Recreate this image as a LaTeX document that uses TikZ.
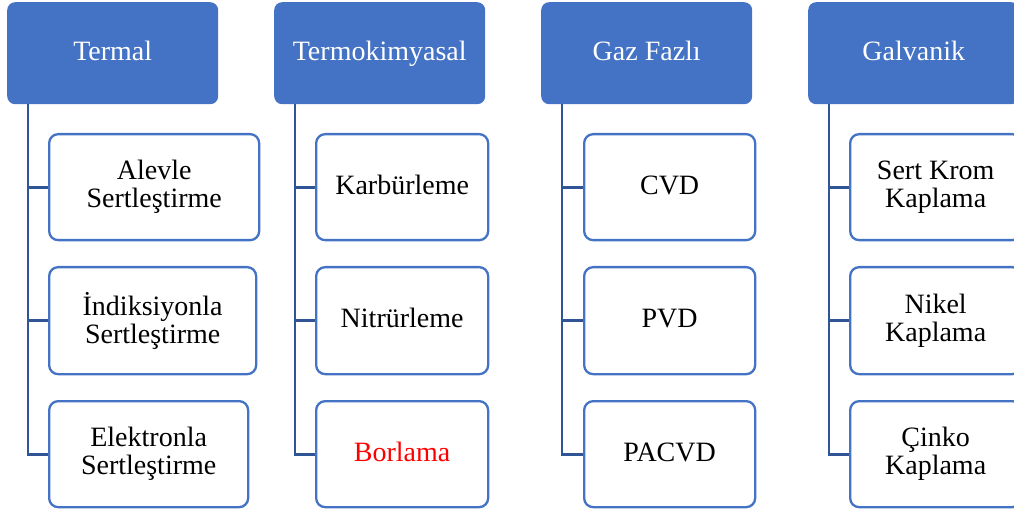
\documentclass[tikz,border=0pt]{standalone}
\usepackage{fontspec}
\setmainfont{Liberation Serif}
\definecolor{hdr}{HTML}{4472C4}
\definecolor{conn}{HTML}{2F5597}
\definecolor{bord}{HTML}{4472C4}
\tikzset{
  hdrbox/.style={fill=hdr, draw=none, rounded corners=8pt, text=white, font=\fontsize{28}{28}\selectfont, align=center, anchor=north west, text height=19pt, text depth=5pt, minimum width=211pt, minimum height=102pt},
  childbox/.style={draw=bord, fill=white, line width=2.3pt, rounded corners=9pt, font=\fontsize{28}{28}\selectfont, align=center, anchor=north west},
  oneline/.style={childbox, text height=19pt, text depth=5pt},
  connline/.style={draw=conn, line width=2.8pt}
}
\begin{document}
\begin{tikzpicture}[x=1pt,y=-1pt]
\useasboundingbox (0,0) rectangle (1014,510);
\clip (0,0) rectangle (1014,510);
% headers
\node[hdrbox] (h1) at (7,2) {Termal};
\node[hdrbox] (h2) at (274,2) {Termokimyasal};
\node[hdrbox] (h3) at (541,2) {Gaz Fazlı};
\node[hdrbox] (h4) at (808,2) {Galvanik};
% column 1
\node[childbox, minimum width=210pt, minimum height=106pt] (c11) at (48,133) {Alevle\\Sertleştirme};
\node[childbox, minimum width=207pt, minimum height=107pt] (c12) at (48,266) {İndiksiyonla\\Sertleştirme};
\node[childbox, minimum width=199pt, minimum height=106pt] (c13) at (48,400) {Elektronla\\Sertleştirme};
% column 2
\node[oneline, minimum width=172pt, minimum height=106pt] (c21) at (315,133) {Karbürleme};
\node[oneline, minimum width=172pt, minimum height=107pt] (c22) at (315,266) {Nitrürleme};
\node[oneline, minimum width=172pt, minimum height=106pt, text=red] (c23) at (315,400) {Borlama};
% column 3
\node[oneline, minimum width=171pt, minimum height=106pt] (c31) at (583,133) {CVD};
\node[oneline, minimum width=171pt, minimum height=107pt] (c32) at (583,266) {PVD};
\node[oneline, minimum width=171pt, minimum height=106pt] (c33) at (583,400) {PACVD};
% column 4
\node[childbox, minimum width=171pt, minimum height=106pt] (c41) at (849,133) {Sert Krom\\Kaplama};
\node[childbox, minimum width=171pt, minimum height=107pt] (c42) at (849,266) {Nikel\\Kaplama};
\node[childbox, minimum width=171pt, minimum height=106pt] (c43) at (849,400) {Çinko\\Kaplama};
% connectors
\coordinate (t1) at (28,104);
\coordinate (t2) at (295,104);
\coordinate (t3) at (562,104);
\coordinate (t4) at (829,104);
\foreach \k in {1,2,3,4}{
  \draw[connline] (t\k) |- (c\k3.west);
  \draw[connline] (t\k |- c\k1.west) -- (c\k1.west);
  \draw[connline] (t\k |- c\k2.west) -- (c\k2.west);
}
\end{tikzpicture}
\end{document}
